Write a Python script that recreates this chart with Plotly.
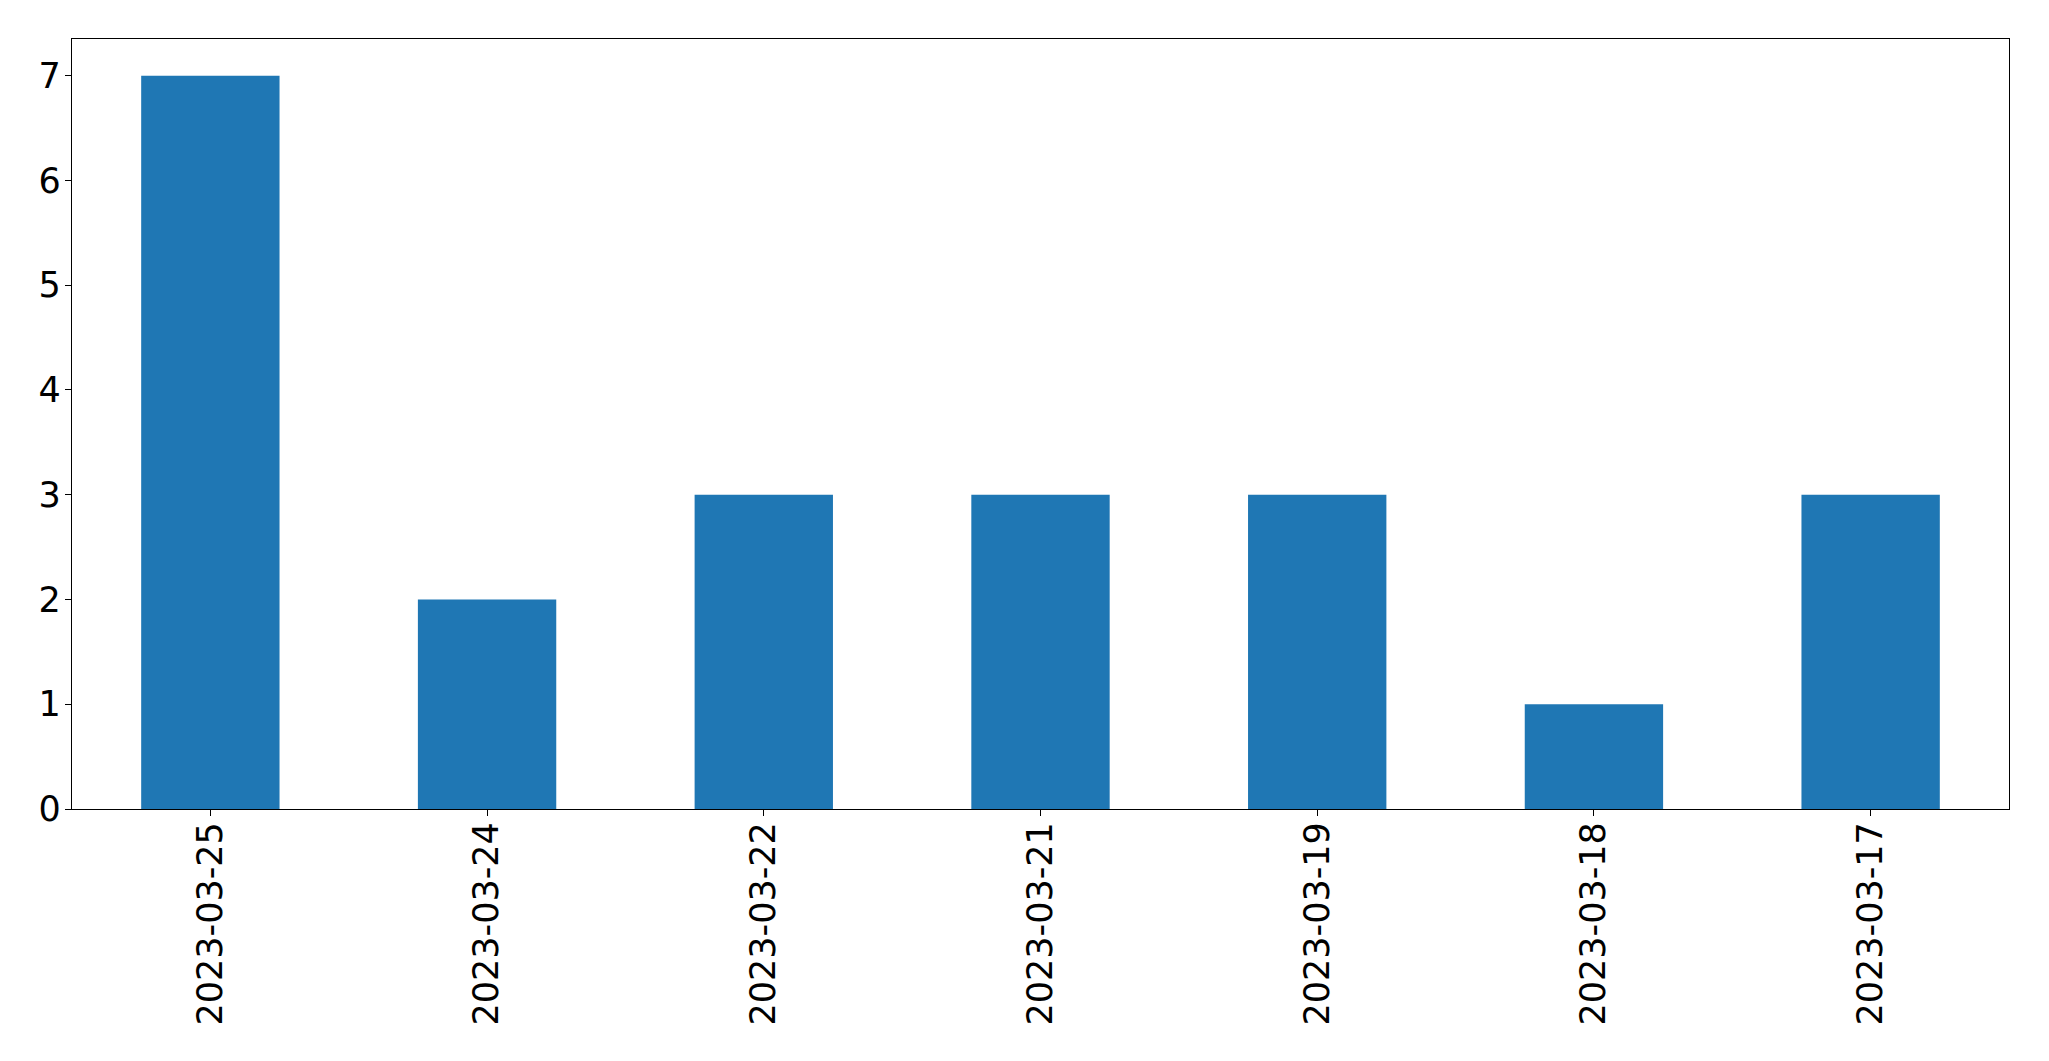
import plotly.graph_objects as go

dates = ["2023-03-25", "2023-03-24", "2023-03-22", "2023-03-21", "2023-03-19", "2023-03-18", "2023-03-17"]
counts = [7, 2, 3, 3, 3, 1, 3]
y_ticks = [0, 1, 2, 3, 4, 5, 6, 7]

fig = go.Figure(go.Bar(x=dates, y=counts, marker=dict(color="#1f77b4", line=dict(width=0)), width=0.5))

axis_common = dict(showline=True, linecolor="black", linewidth=1.3, mirror=True,
                   ticks="outside", ticklen=6, tickwidth=1.3, tickcolor="black",
                   showgrid=False, zeroline=False,
                   tickfont=dict(family="DejaVu Sans", size=35, color="black"))

fig.update_layout(
    width=2033, height=1045,
    margin=dict(l=64, r=32, t=31, b=244),
    plot_bgcolor="white", paper_bgcolor="white",
    showlegend=False,
    xaxis=dict(type="category", range=[-0.5, 6.5], tickangle=-90, ticklabelstandoff=-8, **axis_common),
    yaxis=dict(range=[0, 7.35], tickvals=y_ticks, ticklabelstandoff=-3, **axis_common),
)

fig.write_html("out.html")
